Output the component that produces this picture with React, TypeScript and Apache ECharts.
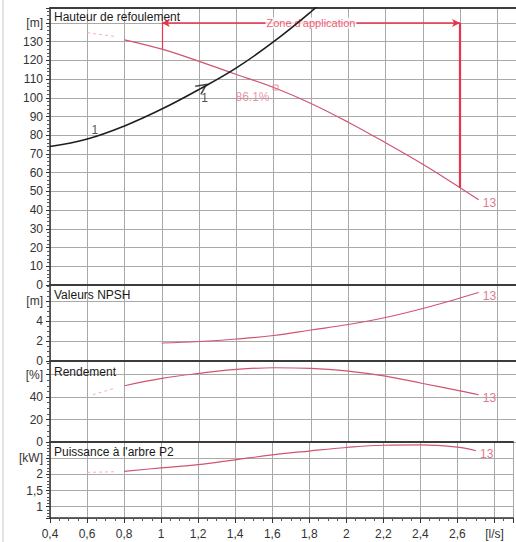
import React, { useEffect, useRef } from 'react';
import * as echarts from 'echarts';

const FONT = '"Liberation Sans", Arial, sans-serif';

// Flow axis [l/s]
const flowMin = 0.4;
const flowMax = 2.9;
const flowStep = 0.2;
const flowUnitAt = 2.8;

// Head (Hauteur de refoulement) [m]
const headDashFlow = [0.6, 0.75];
const headDash = [134.8, 132.8];
const headFlow = [0.8, 1.0, 1.2, 1.4, 1.6, 1.8, 2.0, 2.2, 2.4, 2.6, 2.7];
const head = [131, 126, 119.5, 112.5, 105.5, 97, 87, 76, 64.5, 52, 45.5];

// System curve "1"
const systemFlow = [0.4, 0.6, 0.8, 1.0, 1.2, 1.4, 1.6, 1.8, 1.9];
const systemHead = [74, 78, 85, 94, 104.5, 116, 130, 146, 155];
const systemLabelFlow = [0.64, 1.23];
const systemLabelHead = [83, 100];
const systemArrowFlow = [1.2];
const systemArrowHead = [104.5];

// Best efficiency point
const bepFlow = [1.61];
const bepHead = [105.5];
const bepText = '86.1%';

// Zone d'application
const zoneStart = 1.0;
const zoneEnd = 2.6;
const zoneHead = 140;
const zoneText = "Zone d'application";

// NPSH [m]
const npshFlow = [1.0, 1.2, 1.4, 1.6, 1.8, 2.0, 2.2, 2.4, 2.6, 2.7];
const npsh = [1.8, 1.95, 2.2, 2.55, 3.1, 3.65, 4.35, 5.25, 6.3, 6.85];

// Rendement [%]
const effDashFlow = [0.63, 0.75];
const effDash = [42, 48];
const effFlow = [0.8, 1.0, 1.2, 1.4, 1.6, 1.8, 2.0, 2.2, 2.4, 2.6, 2.7];
const eff = [50, 56.5, 61, 64.5, 66, 65.5, 63, 58.5, 52, 45.5, 42];

// Puissance à l'arbre P2 [kW]
const powerDashFlow = [0.6, 0.75];
const powerDash = [2.06, 2.08];
const powerFlow = [0.8, 1.0, 1.2, 1.4, 1.6, 1.8, 2.0, 2.2, 2.4, 2.6, 2.7];
const power = [2.09, 2.2, 2.3, 2.45, 2.6, 2.72, 2.83, 2.9, 2.91, 2.84, 2.73];

const curveName = '13';
const systemName = '1';

const zip = (a: number[], b: number[]) => a.map((x, i) => [x, b[i]]);

const PUMP = '#d05571';
const PUMP_LIGHT = '#f3b0be';
const PUMP_TEXT = '#e27a8f';
const ZONE = '#e6344c';
const GRIDC = '#a9a9a9';
const AXIS = '#333';

const fmt = (unitAt: number, unit: string, step: number, max: number) => (v: number) => {
  const r = Math.round(v * 100) / 100;
  if (r >= max - 1e-6) return '';
  if (Math.abs(r - unitAt) < 1e-6) return unit;
  const k = r / step;
  if (Math.abs(k - Math.round(k)) > 1e-6) return '';
  return String(r).replace('.', ',');
};

const grids = [
  { left: 50, right: 0, top: 8, height: 277 },
  { left: 50, right: 0, top: 285, height: 76 },
  { left: 50, right: 0, top: 361, height: 81 },
  { left: 50, right: 0, top: 442, height: 76 },
];

const yAxis = (
  gridIndex: number,
  min: number,
  max: number,
  step: number,
  unitAt: number,
  unit: string,
  minorSplit: number,
  extra: any
) => ({
  type: 'value',
  gridIndex,
  min,
  max,
  ...extra,
  axisLine: { show: true, onZero: false, lineStyle: { color: AXIS, width: 1.5 } },
  axisTick: { show: true, length: 4, lineStyle: { color: AXIS } },
  minorTick: { show: true, splitNumber: minorSplit, length: 3, lineStyle: { color: '#555' } },
  axisLabel: {
    color: AXIS,
    fontSize: 12,
    fontFamily: FONT,
    margin: 7,
    formatter: fmt(unitAt, unit, step, max),
  },
  splitLine: { show: true, lineStyle: { color: GRIDC, width: 1 } },
});

const topX = (gridIndex: number) => ({
  type: 'value',
  gridIndex,
  position: 'top',
  min: flowMin,
  max: flowMax,
  interval: flowStep,
  axisLine: { show: true, onZero: false, lineStyle: { color: '#3c3c3c', width: 2 } },
  axisTick: { show: false },
  axisLabel: { show: false },
  splitLine: { show: true, lineStyle: { color: GRIDC, width: 1 } },
});

const pumpLine = (xi: number, yi: number, data: number[][], withLabel: boolean, extra: any = {}) => ({
  type: 'line',
  xAxisIndex: xi,
  yAxisIndex: yi,
  data,
  smooth: 0.4,
  showSymbol: false,
  silent: true,
  lineStyle: { color: PUMP, width: 1.2 },
  endLabel: withLabel
    ? {
        show: true,
        formatter: curveName,
        color: PUMP_TEXT,
        fontSize: 12,
        fontFamily: FONT,
        distance: 4,
        offset: [0, 3],
      }
    : { show: false },
  z: 3,
  ...extra,
});

const dashLine = (xi: number, yi: number, data: number[][]) => ({
  type: 'line',
  xAxisIndex: xi,
  yAxisIndex: yi,
  data,
  showSymbol: false,
  silent: true,
  lineStyle: { color: PUMP_LIGHT, width: 1, type: [3, 3] },
  z: 2,
});

export default function App() {
  const ref = useRef<HTMLDivElement>(null);

  useEffect(() => {
    if (!ref.current) return;
    const chart = echarts.init(ref.current, null, { renderer: 'svg' });

    const option: any = {
      animation: false,
      backgroundColor: '#fff',
      textStyle: { fontFamily: FONT },
      grid: grids,
      xAxis: [
        topX(0),
        topX(1),
        topX(2),
        topX(3),
        {
          type: 'value',
          gridIndex: 3,
          position: 'bottom',
          min: flowMin,
          max: flowMax,
          interval: flowStep,
          axisLine: { show: true, onZero: false, lineStyle: { color: AXIS, width: 1.5 } },
          axisTick: { show: true, length: 5, lineStyle: { color: AXIS } },
          minorTick: { show: true, splitNumber: 4, length: 3, lineStyle: { color: '#555' } },
          axisLabel: {
            color: AXIS,
            fontSize: 12,
            fontFamily: FONT,
            margin: 10,
            formatter: fmt(flowUnitAt, '[l/s]', flowStep, flowMax),
          },
          splitLine: { show: false },
        },
      ],
      yAxis: [
        yAxis(0, 0, 148, 10, 140, '[m]', 5, { interval: 10 }),
        yAxis(1, 0, 7.6, 2, 6, '[m]', 4, { interval: 2 }),
        yAxis(2, 0, 72, 20, 60, '[%]', 4, { interval: 20 }),
        yAxis(3, 0.65, 3.0, 0.5, 2.5, '[kW]', 5, { splitNumber: 5 }),
      ],
      graphic: [
        { type: 'line', shape: { x1: 3, y1: 0, x2: 3, y2: 542 }, style: { stroke: '#c8c8c8', lineWidth: 1 }, silent: true },
        { type: 'text', left: 54, top: 11, z: 1, style: { text: 'Hauteur de refoulement', fill: '#1a1a1a', font: `12px ${FONT}` }, silent: true },
        { type: 'text', left: 54, top: 289, z: 1, style: { text: 'Valeurs NPSH', fill: '#1a1a1a', font: `12px ${FONT}` }, silent: true },
        { type: 'text', left: 54, top: 366, z: 1, style: { text: 'Rendement', fill: '#1a1a1a', font: `12px ${FONT}` }, silent: true },
        { type: 'text', left: 54, top: 446, z: 1, style: { text: "Puissance à l'arbre P2", fill: '#1a1a1a', font: `12px ${FONT}` }, silent: true },
      ],
      series: [
        dashLine(0, 0, zip(headDashFlow, headDash)),
        pumpLine(0, 0, zip(headFlow, head), true, {
          markLine: {
            silent: true,
            animation: false,
            z: 4,
            symbol: ['none', 'none'],
            label: { show: false },
            data: [
              [
                {
                  coord: [zoneStart, zoneHead],
                  symbol: 'arrow',
                  symbolSize: [6, 8],
                  lineStyle: { color: ZONE, width: 1.5, type: 'solid' },
                },
                { coord: [zoneEnd, zoneHead], symbol: 'arrow', symbolSize: [6, 8] },
              ],
              [
                { coord: [zoneStart, zoneHead], lineStyle: { color: ZONE, width: 1.2, type: 'solid' } },
                { coord: [zoneStart, head[headFlow.indexOf(zoneStart)]] },
              ],
              [
                { coord: [zoneEnd, zoneHead], lineStyle: { color: ZONE, width: 2.2, type: 'solid' } },
                { coord: [zoneEnd, head[headFlow.indexOf(zoneEnd)]] },
              ],
            ],
          },
        }),
        {
          type: 'scatter',
          xAxisIndex: 0,
          yAxisIndex: 0,
          data: [[(zoneStart + zoneEnd) / 2, zoneHead]],
          symbol: 'circle',
          symbolSize: 1,
          silent: true,
          itemStyle: { color: 'rgba(0,0,0,0)' },
          label: {
            show: true,
            position: 'inside',
            formatter: zoneText,
            color: ZONE,
            fontSize: 11,
            fontFamily: FONT,
            backgroundColor: '#fff',
            padding: [0, 1],
          },
          z: 5,
        },
        {
          type: 'scatter',
          xAxisIndex: 0,
          yAxisIndex: 0,
          data: zip(bepFlow, bepHead),
          symbol: 'rect',
          symbolSize: 5,
          silent: true,
          itemStyle: { color: 'rgba(0,0,0,0)', borderColor: PUMP_TEXT, borderWidth: 1 },
          label: {
            show: true,
            position: 'left',
            distance: 3,
            offset: [0, 9],
            formatter: bepText,
            color: PUMP_TEXT,
            fontSize: 12,
            fontFamily: FONT,
          },
          z: 4,
        },
        {
          type: 'line',
          xAxisIndex: 0,
          yAxisIndex: 0,
          data: zip(systemFlow, systemHead),
          smooth: 0.4,
          showSymbol: false,
          silent: true,
          clip: true,
          lineStyle: { color: '#1e1e1e', width: 1.6 },
          z: 6,
        },
        {
          type: 'scatter',
          xAxisIndex: 0,
          yAxisIndex: 0,
          data: zip(systemLabelFlow, systemLabelHead),
          symbol: 'circle',
          symbolSize: 1,
          silent: true,
          itemStyle: { color: 'rgba(0,0,0,0)' },
          label: {
            show: true,
            position: 'inside',
            formatter: systemName,
            color: '#1e1e1e',
            fontSize: 12,
            fontFamily: FONT,
          },
          z: 6,
        },
        {
          type: 'scatter',
          xAxisIndex: 0,
          yAxisIndex: 0,
          data: zip(systemArrowFlow, systemArrowHead),
          symbol: 'path://M0,0L10,5L0,10',
          symbolSize: 10,
          symbolRotate: 35,
          symbolKeepAspect: true,
          symbolOffset: [3, -2],
          silent: true,
          itemStyle: { color: 'rgba(0,0,0,0)', borderColor: '#1e1e1e', borderWidth: 1.6 },
          z: 6,
        },
        pumpLine(1, 1, zip(npshFlow, npsh), true),
        dashLine(2, 2, zip(effDashFlow, effDash)),
        pumpLine(2, 2, zip(effFlow, eff), true),
        dashLine(3, 3, zip(powerDashFlow, powerDash)),
        pumpLine(3, 3, zip(powerFlow, power), true),
      ],
    };

    chart.setOption(option);
    return () => chart.dispose();
  }, []);

  return (
    <div
      ref={ref}
      style={{ position: 'fixed', left: 0, top: 0, width: 516, height: 542, background: '#fff' }}
    />
  );
}
